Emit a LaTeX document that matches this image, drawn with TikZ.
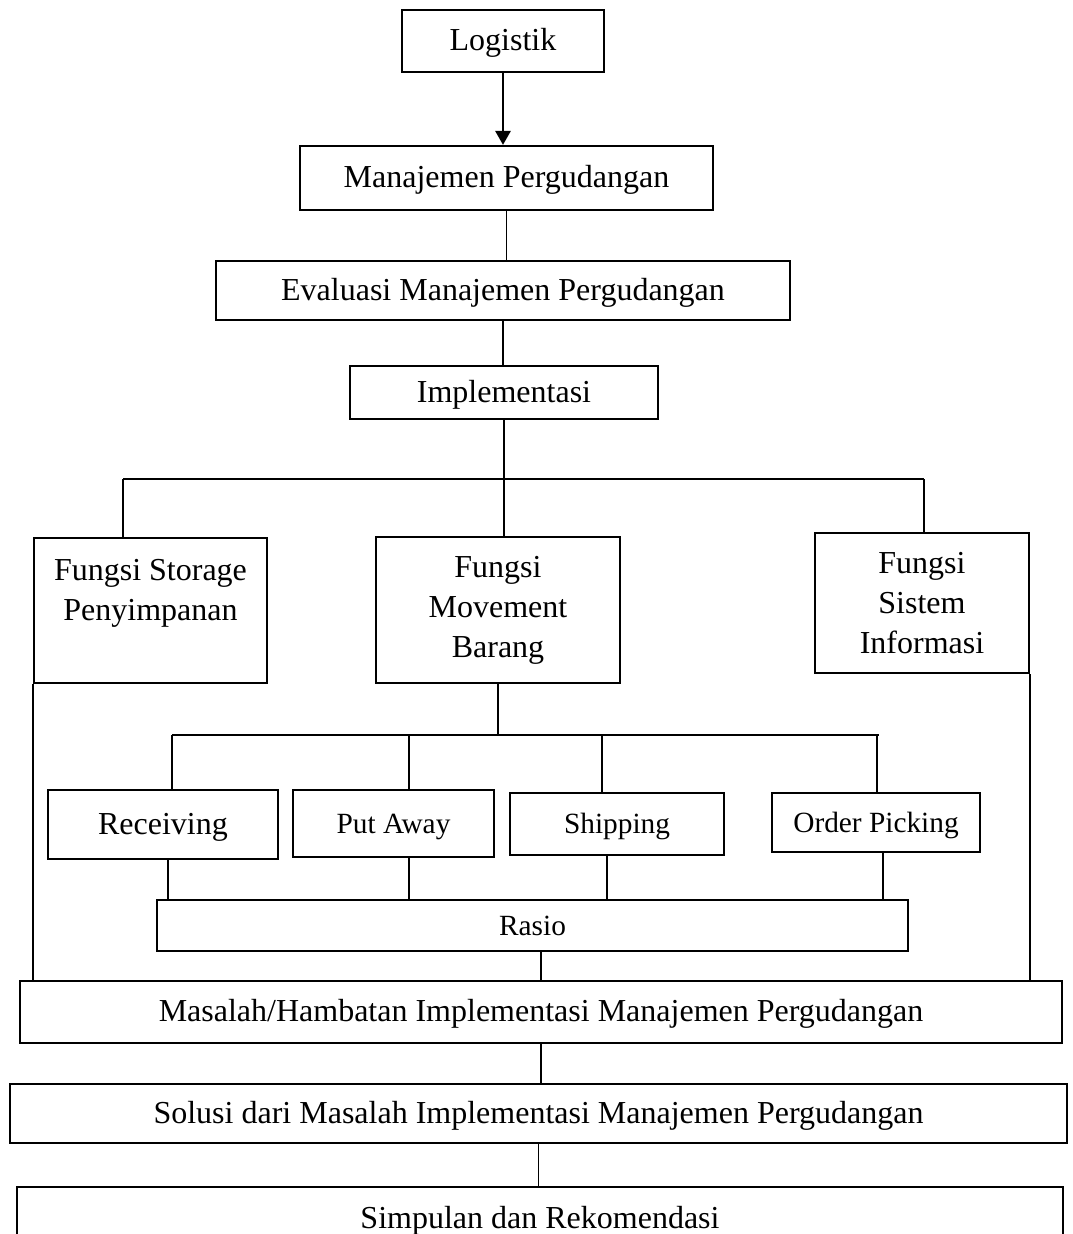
\documentclass[tikz,border=0pt]{standalone}
\usepackage{fontspec}
\setmainfont{Liberation Serif}
\usetikzlibrary{arrows.meta}
\usetikzlibrary{calc}
\newcommand{\normalText}{\fontsize{12}{15}\selectfont}
\newcommand{\smallText}{\fontsize{11}{13}\selectfont}

\begin{document}
\begin{tikzpicture}[%%
  x=0.375pt, y=-0.375pt,%%
  boxStyle/.style={draw, line width=0.8pt, inner sep=0pt, align=center, font=\normalText},%%
  oneLine/.style={text height=9.6pt, text depth=2.4pt},%%
  smallBox/.style={boxStyle, oneLine, font=\smallText},%%
  boxSize/.style 2 args={minimum width=#1*0.375pt, minimum height=#2*0.375pt},%%
  lineStyle/.style={-, line width=0.45pt},%%
  arrowStyle/.style={-{Triangle[length=5.25pt, width=5.6pt]}, line width=1.1pt}%%
]
%%
%%
\useasboundingbox (0,0) rectangle (1072,1234);
\clip (0,0) rectangle (1072,1234);
%%
%% Main column.
\node[boxStyle, oneLine, boxSize={202}{62}] (logistik) at (503,41) {Logistik};
\node[boxStyle, oneLine, boxSize={413}{64}] (manajemen) at (506.5,178) {Manajemen Pergudangan};
\node[boxStyle, oneLine, boxSize={574}{59}] (evaluasi) at (503,290.5) {Evaluasi Manajemen Pergudangan};
\node[boxStyle, oneLine, boxSize={308}{53}] (implementasi) at (504,392.5) {Implementasi};
%%
%% The three functions.
\node[boxStyle, boxSize={233}{145}] (storage) at (150.5,610.5) {Fungsi Storage\\Penyimpanan\\[-4pt]\strut};
\node[boxStyle, boxSize={244}{146}] (movement) at (498,610) {Fungsi\\Movement\\Barang};
\node[boxStyle, boxSize={214}{140}] (sistem) at (922,603) {Fungsi\\Sistem\\Informasi};
%%
%% Movement of goods.
\node[boxStyle, oneLine, boxSize={230}{69}] (receiving) at (163,824.5) {Receiving};
\node[smallBox, boxSize={201}{67}] (putAway) at (393.5,823.5) {Put Away};
\node[smallBox, boxSize={214}{62}] (shipping) at (617,824) {Shipping};
\node[smallBox, boxSize={208}{59}] (orderPicking) at (876,822.5) {Order Picking};
\node[smallBox, boxSize={751}{51}] (rasio) at (532.5,925.5) {Rasio};
%%
%% Bottom column.
\node[boxStyle, oneLine, boxSize={1042}{62}] (masalah) at (541,1012) {Masalah/Hambatan Implementasi Manajemen Pergudangan};
\node[boxStyle, oneLine, boxSize={1057}{59}] (solusi) at (538.5,1113.5) {Solusi dari Masalah Implementasi Manajemen Pergudangan};
\node[boxStyle, oneLine, boxSize={1046}{64}] (simpulan) at (540,1219) {Simpulan dan Rekomendasi};
%%
%% Connectors.
\draw[arrowStyle] (logistik.south) -- (logistik.south |- manajemen.north);
\draw[lineStyle] (manajemen.south) -- (manajemen.south |- evaluasi.north);
\draw[lineStyle] (evaluasi.south) -- (evaluasi.south |- implementasi.north);
%%
\coordinate (busLeft) at (123,479);
\coordinate (busRight) at (924,479);
\draw[lineStyle] (busLeft) -- (busRight);
\draw[lineStyle] (implementasi.south) -- (implementasi.south |- movement.north);
\draw[lineStyle] (busLeft) -- (busLeft |- storage.north);
\draw[lineStyle] (busRight) -- (busRight |- sistem.north);
%%
\coordinate (subLeft) at (172,735);
\coordinate (subRight) at (879,735);
\draw[lineStyle] (subLeft) -- (subRight);
\draw[lineStyle] (movement.south) -- (movement.south |- subLeft);
\foreach \boxName/\topShift/\bottomShift in {receiving/9/5, putAway/15.5/15.5, shipping/-15/-10, orderPicking/1/7}{
  \coordinate (\boxName-top) at ($(\boxName.north)+(\topShift,0)$);
  \coordinate (\boxName-bottom) at ($(\boxName.south)+(\bottomShift,0)$);
  \draw[lineStyle] (\boxName-top |- subLeft) -- (\boxName-top);
  \draw[lineStyle] (\boxName-bottom) -- (\boxName-bottom |- rasio.north);
}
%%
\draw[lineStyle] (storage.south west) -- (storage.south west |- masalah.north);
\draw[lineStyle] (sistem.south east) -- (sistem.south east |- masalah.north);
\draw[lineStyle] (masalah.north) -- (masalah.north |- rasio.south);
\draw[lineStyle] (masalah.south) -- (masalah.south |- solusi.north);
\draw[lineStyle] (solusi.south) -- (solusi.south |- simpulan.north);
\end{tikzpicture}
\end{document}
